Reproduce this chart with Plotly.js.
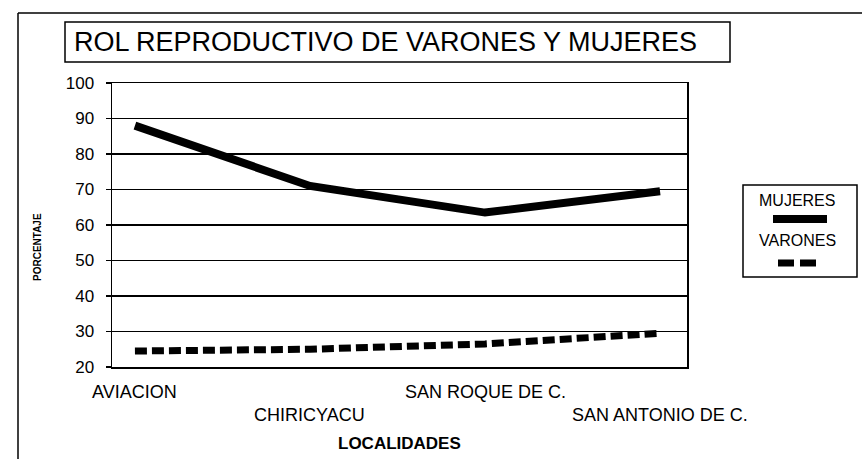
<!DOCTYPE html>
<html>
<head>
<meta charset="utf-8">
<script src="https://cdn.plot.ly/plotly-3.0.1.min.js"></script>
<style>html,body{margin:0;padding:0;background:#fff;}#chart{width:862px;height:459px;}</style>
</head>
<body>
<div id="chart"></div>
<script>
// ---- data ----
var categories = ["AVIACION", "CHIRICYACU", "SAN ROQUE DE C.", "SAN ANTONIO DE C."];
var mujeres = [88, 71, 63.5, 69.5];
var varones = [24.5, 25, 26.5, 29.5];
var seriesNames = ["MUJERES", "VARONES"];
var yTicks = [20, 30, 40, 50, 60, 70, 80, 90, 100];
var chartTitle = "ROL REPRODUCTIVO DE VARONES Y MUJERES";
var xTitle = "LOCALIDADES";
var yTitle = "PORCENTAJE";

var FONT = "Liberation Sans, Arial, sans-serif";
var W = 862, H = 459;
var mL = 112, mR = 175, mT = 83, mB = 92;
var PW = W - mL - mR, PH = H - mT - mB;
// pixel position -> plot-area (paper) fraction
function px(x){ return (x - mL) / PW; }
function py(y){ return (H - mB - y) / PH; }

var traces = [
  {x: categories, y: mujeres, name: seriesNames[0], mode: "lines", type: "scatter",
   line: {color: "#000", width: 8}, showlegend: false},
  {x: categories, y: varones, name: seriesNames[1], mode: "lines", type: "scatter",
   line: {color: "#000", width: 7, dash: "12px,5px"}, showlegend: false}
];

var annotations = [];
// staggered category labels
categories.forEach(function(c, i){
  annotations.push({x: c, xref: "x", y: 0, yref: "paper", text: c, showarrow: false,
    xanchor: "center", yanchor: "middle", yshift: (i % 2 === 0) ? -25 : -48,
    font: {family: FONT, size: 18, color: "#000"}});
});
// x title
annotations.push({x: 0.5, xref: "paper", y: py(443), yref: "paper", xanchor: "center", yanchor: "middle",
  text: "<b>" + xTitle + "</b>", showarrow: false, font: {family: FONT, size: 17, color: "#000"}});
// y title
annotations.push({x: px(37), xref: "paper", y: py(247), yref: "paper", xanchor: "center", yanchor: "middle",
  text: "<b>" + yTitle + "</b>", textangle: -90, showarrow: false, font: {family: FONT, size: 10, color: "#000"}});
// chart title
annotations.push({x: px(72), xref: "paper", y: py(42), yref: "paper", xanchor: "left", yanchor: "middle",
  text: chartTitle, showarrow: false, font: {family: FONT, size: 27, color: "#000"}});
// legend texts
annotations.push({x: px(797), xref: "paper", y: py(200), yref: "paper", xanchor: "center", yanchor: "middle",
  text: seriesNames[0], showarrow: false, font: {family: FONT, size: 16, color: "#000"}});
annotations.push({x: px(797), xref: "paper", y: py(240), yref: "paper", xanchor: "center", yanchor: "middle",
  text: seriesNames[1], showarrow: false, font: {family: FONT, size: 16, color: "#000"}});

var shapes = [
  // outer frame (top and left)
  {type: "line", xref: "paper", yref: "paper", x0: px(18), x1: px(862), y0: py(13), y1: py(13), line: {color: "#000", width: 1.5}},
  {type: "line", xref: "paper", yref: "paper", x0: px(18), x1: px(18), y0: py(13), y1: py(459), line: {color: "#000", width: 1.5}},
  // title box
  {type: "rect", xref: "paper", yref: "paper", x0: px(65), x1: px(730), y0: py(22), y1: py(62), line: {color: "#000", width: 1.5}, fillcolor: "rgba(0,0,0,0)"},
  // legend box
  {type: "rect", xref: "paper", yref: "paper", x0: px(743), x1: px(857), y0: py(185), y1: py(277), line: {color: "#000", width: 1.5}, fillcolor: "rgba(0,0,0,0)"},
  // legend keys
  {type: "line", xref: "paper", yref: "paper", x0: px(773), x1: px(827), y0: py(219), y1: py(219), line: {color: "#000", width: 8}},
  {type: "line", xref: "paper", yref: "paper", x0: px(778), x1: px(817), y0: py(263), y1: py(263), line: {color: "#000", width: 7, dash: "16px,6px"}}
];

var layout = {
  width: W, height: H,
  margin: {l: mL, r: mR, t: mT, b: mB, pad: 0},
  paper_bgcolor: "#fff", plot_bgcolor: "#fff",
  showlegend: false,
  xaxis: {type: "category", range: [-0.131, 3.154], showticklabels: false, showgrid: false,
    zeroline: false, showline: true, linecolor: "#000", linewidth: 1.5, mirror: true, ticks: ""},
  yaxis: {range: [20, 100], tickvals: yTicks, ticktext: yTicks.map(String), showgrid: true,
    gridcolor: "#000", gridwidth: 1.5, zeroline: false, showline: true, linecolor: "#000",
    linewidth: 1.5, mirror: true, ticks: "outside", ticklen: 5, tickcolor: "#000", tickwidth: 1.5,
    ticklabelstandoff: 8,
    tickfont: {family: FONT, size: 17, color: "#000"}},
  annotations: annotations,
  shapes: shapes
};

Plotly.newPlot("chart", traces, layout, {displayModeBar: false, staticPlot: true});
</script>
</body>
</html>
